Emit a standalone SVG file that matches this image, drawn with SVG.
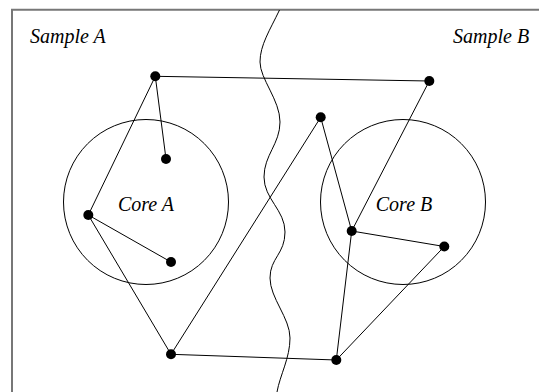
<svg xmlns="http://www.w3.org/2000/svg" width="539" height="392" viewBox="0 0 539 392">
<style>
.lbl{font-family:"Liberation Serif","Times New Roman",serif;font-style:italic;font-size:20px;fill:#000}
.core{fill:none;stroke:#000;stroke-width:1}
.edge{stroke:#000;stroke-width:1;fill:none}
.dot{fill:#000}
</style>
<rect width="539" height="392" fill="#fff"/>
<g id="frame">
<path d="M12,392 V9.7 H539" fill="none" stroke="#777" stroke-width="2"/>
</g>
<g id="boundary">
<path d="M279.5,10 C270,30 260,45 260,62 S280,100 280,122 S264,155 264,177 S285,210 285,232 S270,258 270,278 S290,318 290,338 S280,375 277,392" fill="none" stroke="#000" stroke-width="1"/>
</g>
<text class="lbl" x="30" y="42.5">Sample A</text>
<text class="lbl" x="453" y="42.5">Sample B</text>
<g id="coreA">
<circle class="core" cx="146" cy="202" r="82.5"/>
<text class="lbl" x="146" y="211" text-anchor="middle">Core A</text>
</g>
<g id="coreB">
<circle class="core" cx="403" cy="202" r="82.5"/>
<text class="lbl" x="404" y="210.5" text-anchor="middle">Core B</text>
</g>
<g id="connectors">
<line class="edge" x1="155.3" y1="76.3" x2="429.3" y2="81"/>
<line class="edge" x1="155.3" y1="76.3" x2="166" y2="159"/>
<line class="edge" x1="155.3" y1="76.3" x2="88.3" y2="215"/>
<line class="edge" x1="88.3" y1="215" x2="171" y2="262"/>
<line class="edge" x1="88.3" y1="215" x2="171" y2="354.3"/>
<line class="edge" x1="171" y1="354.3" x2="320.7" y2="117.3"/>
<line class="edge" x1="171" y1="354.3" x2="336.3" y2="360"/>
<line class="edge" x1="320.7" y1="117.3" x2="351.7" y2="231"/>
<line class="edge" x1="429.3" y1="81" x2="351.7" y2="231"/>
<line class="edge" x1="351.7" y1="231" x2="444.3" y2="246.5"/>
<line class="edge" x1="351.7" y1="231" x2="336.3" y2="360"/>
<line class="edge" x1="444.3" y1="246.5" x2="336.3" y2="360"/>
</g>
<g id="n1"><circle class="dot" cx="155.3" cy="76.3" r="5"/></g>
<g id="n2"><circle class="dot" cx="166" cy="159" r="5"/></g>
<g id="n3"><circle class="dot" cx="88.3" cy="215" r="5"/></g>
<g id="n4"><circle class="dot" cx="171" cy="262" r="5"/></g>
<g id="n5"><circle class="dot" cx="171" cy="354.3" r="5"/></g>
<g id="n6"><circle class="dot" cx="429.3" cy="81" r="5"/></g>
<g id="n7"><circle class="dot" cx="320.7" cy="117.3" r="5"/></g>
<g id="n8"><circle class="dot" cx="351.7" cy="231" r="5"/></g>
<g id="n9"><circle class="dot" cx="444.3" cy="246.5" r="5"/></g>
<g id="n10"><circle class="dot" cx="336.3" cy="360" r="5"/></g>
</svg>
